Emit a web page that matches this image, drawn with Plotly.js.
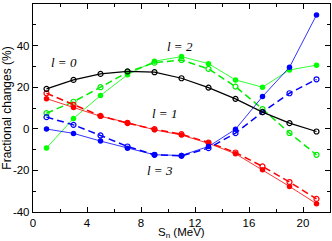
<!DOCTYPE html>
<html><head><meta charset="utf-8">
<script src="https://cdn.plot.ly/plotly-3.0.1.min.js"></script>
<style>html,body{margin:0;padding:0;background:#fff}#c{width:332px;height:241px}</style>
</head><body><div id="c"></div>
<script>
const sn = [1, 3, 5, 7, 9, 11, 13, 15, 17, 19, 21];
const l0 = [19.2, 23.5, 26.4, 27.6, 27.2, 24.3, 19.8, 14.4, 8.0, 2.7, -1.3];
const l2Solid = [-9.2, 5.0, 16.0, 26.0, 32.5, 34.7, 31.3, 23.5, 20.0, 28.3, 30.6];
const l2Dash = [7.5, 13.0, 20.0, 27.2, 31.8, 33.1, 28.8, 20.3, 9.5, -2.0, -12.5];
const l1Solid = [14.5, 10.2, 6.0, 3.0, -0.5, -3.0, -7.0, -12.0, -19.7, -27.7, -36.0];
const l1Dash = [17.1, 11.5, 6.2, 2.7, -0.2, -2.6, -6.6, -11.4, -18.1, -25.6, -33.7];
const l3Solid = [-0.1, -2.2, -5.9, -9.3, -12.5, -12.8, -8.5, -0.2, 15.5, 29.6, 54.7];
const l3Dash = [5.6, 1.9, -3.2, -8.5, -12.5, -13.0, -9.3, -2.1, 8.0, 17.1, 23.8];
const xTicks = [0, 4, 8, 12, 16, 20];
const yTicks = [-40, -20, 0, 20, 40, 60];
const labels = [
  {text: 'l = 0', x: 2.3, y: 31.7},
  {text: 'l = 2', x: 10.9, y: 39.8},
  {text: 'l = 1', x: 9.75, y: 7.2},
  {text: 'l = 3', x: 9.4, y: -20.2}
];

function tr(y, color, lw, dash, open) {
  return {
    x: sn, y: y, type: 'scatter', mode: 'lines+markers',
    line: {color: color, width: lw, dash: dash},
    marker: open ? {symbol: 'circle-open', size: 5, color: color, line: {width: 1.2, color: color}}
                 : {symbol: 'circle', size: 5.5, color: color},
    showlegend: false, hoverinfo: 'none'
  };
}
const data = [
  tr(l2Solid, '#00ff00', 0.8, 'solid', false),
  tr(l2Dash, '#00ee00', 1.5, '7px,4px', true),
  tr(l1Solid, '#ff0000', 0.8, 'solid', false),
  tr(l1Dash, '#ff0000', 1.5, '7px,4px', true),
  tr(l3Solid, '#0000ff', 0.8, 'solid', false),
  tr(l3Dash, '#0000ff', 1.5, '7px,4px', true),
  tr(l0, '#000000', 1.2, 'solid', true)
];
const axisCommon = {
  showline: true, linecolor: '#000', linewidth: 1.2, mirror: 'allticks',
  ticks: 'inside', ticklen: 5, tickwidth: 1, tickcolor: '#000',
  showgrid: false, zeroline: false,
  tickfont: {family: 'Liberation Sans, Arial, sans-serif', size: 11.5, color: '#000'}
};
const annots = labels.map(a => ({
  text: a.text, x: a.x, y: a.y, xref: 'x', yref: 'y', showarrow: false,
  font: {family: 'Liberation Serif, Times New Roman, serif', size: 13, color: '#000', style: 'italic'}
}));
annots.push({
  text: 'S<sub>n</sub> (MeV)', xref: 'paper', yref: 'paper', x: 0.5, y: -0.1,
  xanchor: 'center', yanchor: 'middle', showarrow: false,
  font: {family: 'Liberation Sans, Arial, sans-serif', size: 11.5, color: '#000'}
});
const layout = {
  width: 332, height: 241,
  margin: {l: 33, r: 2, t: 4, b: 29},
  paper_bgcolor: '#fff', plot_bgcolor: '#fff',
  xaxis: Object.assign({}, axisCommon, {
    range: [0, 22], tickmode: 'array', tickvals: xTicks, ticktext: xTicks.map(String),
    minor: {dtick: 2, tick0: 0, ticks: 'inside', ticklen: 3, tickcolor: '#000', showgrid: false}
  }),
  yaxis: Object.assign({}, axisCommon, {
    range: [-40, 60], tickmode: 'array', tickvals: yTicks, ticktext: yTicks.map(String),
    minor: {dtick: 10, tick0: 0, ticks: 'inside', ticklen: 3, tickcolor: '#000', showgrid: false},
    title: {text: 'Fractional changes (%)', standoff: 2,
      font: {family: 'Liberation Sans, Arial, sans-serif', size: 12, color: '#000'}}
  }),
  annotations: annots
};
Plotly.newPlot('c', data, layout, {staticPlot: true, displayModeBar: false});
</script></body></html>
